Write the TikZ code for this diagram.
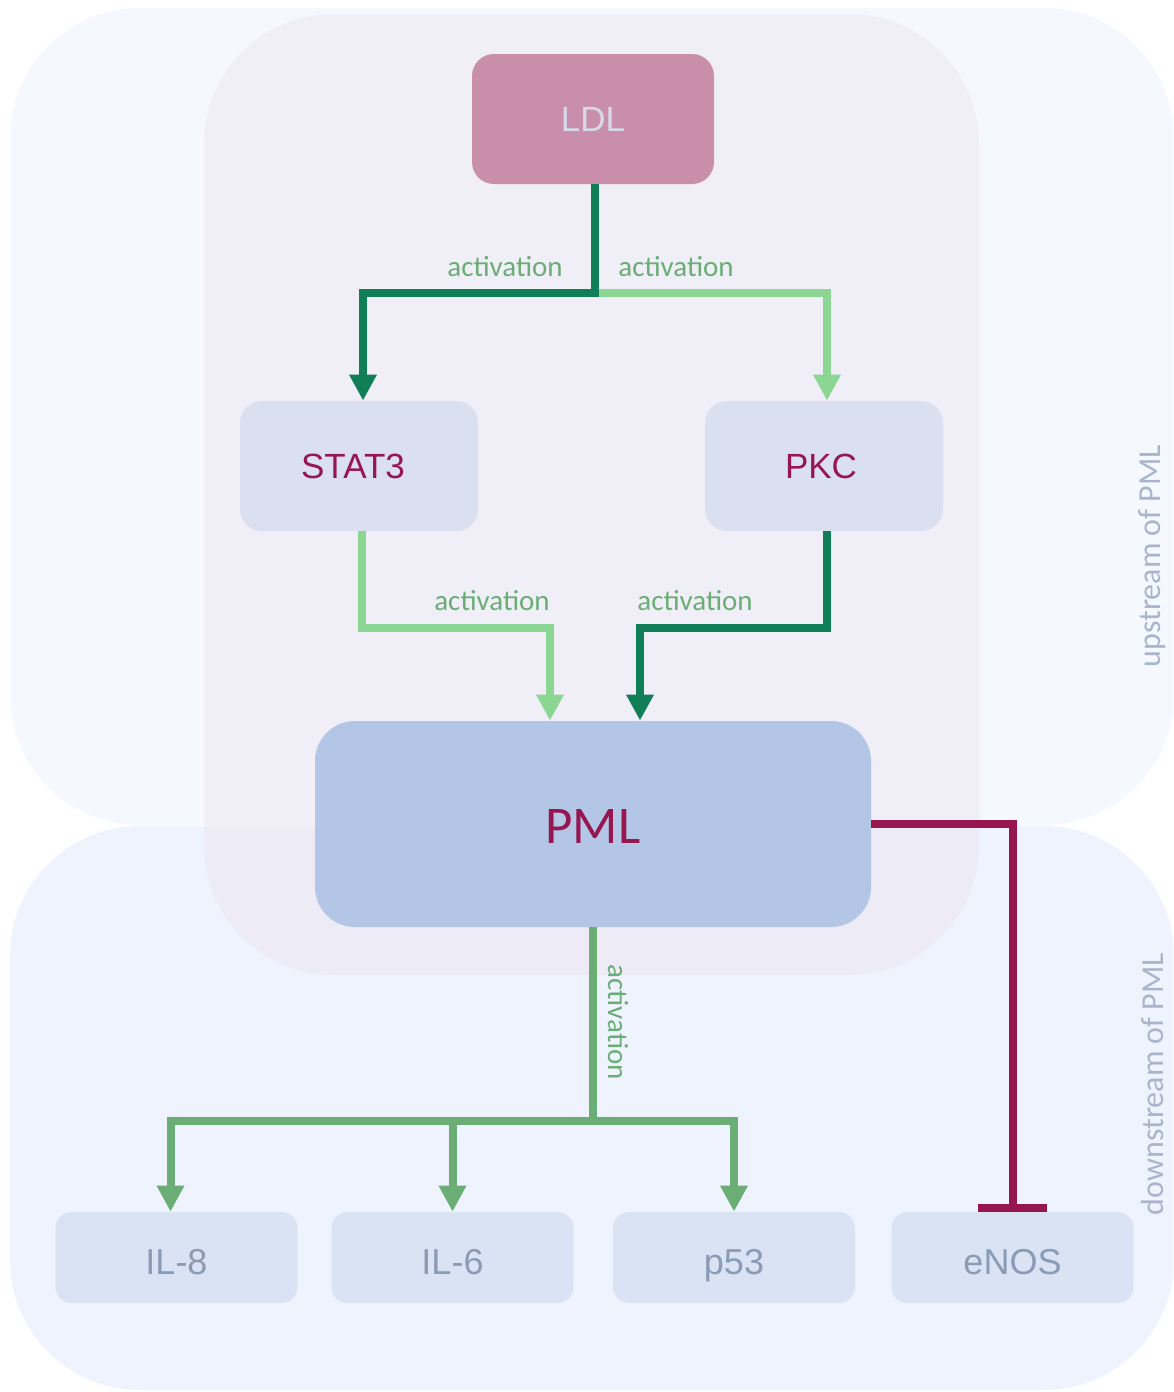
\documentclass[tikz,border=0pt]{standalone}
\usepackage{fontspec}
\setmainfont{Liberation Sans}
\newfontfamily\calib{Carlito}
\usetikzlibrary{arrows.meta}

\definecolor{upfill}{HTML}{F5F8FE}
\definecolor{downfill}{HTML}{EFF3FD}
\definecolor{corefill}{HTML}{EBE2EE}
\definecolor{ldlfill}{HTML}{C88EAC}
\definecolor{midfill}{HTML}{DAE0F0}
\definecolor{pmlfill}{HTML}{B4C6E6}
\definecolor{leaffill}{HTML}{DAE3F3}
\definecolor{plum}{HTML}{961650}
\definecolor{leaftext}{HTML}{8A9BB5}
\definecolor{ldltext}{HTML}{D6DBE9}
\definecolor{actdark}{HTML}{107F58}
\definecolor{actlight}{HTML}{8CD694}
\definecolor{actmid}{HTML}{6AAE76}
\definecolor{clustertext}{HTML}{A9B5CC}

\tikzset{
  box/.style={rectangle, inner sep=0pt, draw=none},
  topbox/.style={box, fill=ldlfill, rounded corners=11pt, minimum width=121pt,
    minimum height=65pt, text=ldltext, font=\fontsize{17.5}{20}\selectfont},
  midbox/.style={box, fill=midfill, rounded corners=11pt, minimum width=119pt,
    minimum height=65pt, text=plum, font=\fontsize{17.5}{20}\selectfont},
  hubbox/.style={box, fill=pmlfill, rounded corners=20pt, minimum width=278pt,
    minimum height=103pt, text=plum, font=\calib\fontsize{26.5}{30}\selectfont,
    text height=19pt, text depth=0pt},
  leafbox/.style={box, fill=leaffill, rounded corners=8pt, minimum width=121pt,
    minimum height=45.5pt, text=leaftext, font=\fontsize{18}{20}\selectfont,
    text height=17.4pt, text depth=0pt},
  edgelbl/.style={inner sep=0pt, text=actmid, font=\calib\fontsize{14.5}{16}\selectfont},
  clusterlbl/.style={inner sep=0pt, text=clustertext, font=\calib\fontsize{16}{18}\selectfont},
  link/.style={line width=4pt, -{Triangle[length=13pt,width=13pt]}},
  block/.style={line width=4pt, color=plum, -{Bar[width=34.5pt,line width=4pt]}},
}

\begin{document}
\begin{tikzpicture}[x=0.5pt, y=-0.5pt]
  \useasboundingbox (0,0) rectangle (1173,1392);
  \fill[white] (0,0) rectangle (1173,1392);
  \clip (0,0) rectangle (1173,1392);

  % clusters
  \fill[upfill, rounded corners=65pt] (10,8) rectangle (1174,825);
  \fill[downfill, rounded corners=65pt] (10,826) rectangle (1174,1390);
  \fill[corefill, fill opacity=0.45, rounded corners=65pt] (204,14) rectangle (979,975);

  \node[clusterlbl, rotate=90] (uplbl) at (1152,556) {upstream of PML};
  \node[clusterlbl, rotate=90] (downlbl) at (1152,1084) {downstream of PML};

  % nodes
  \node[topbox] (ldl) at (593,119) {LDL};
  \node[midbox] (stat3) at (359,466) {\hspace*{-6pt}STAT3};
  \node[midbox] (pkc) at (824,466) {\hspace*{-3pt}PKC};
  \node[hubbox] (pml) at (593,824) {PML};
  \node[leafbox] (il8) at (176.5,1257.5) {IL-8};
  \node[leafbox] (il6) at (452.5,1257.5) {IL-6};
  \node[leafbox] (p53) at (734,1257.5) {p53};
  \node[leafbox] (enos) at (1012.5,1257.5) {eNOS};

  % upstream activations
  \draw[link, actlight] ([xshift=1pt]ldl.south) |- (700,293) -| ([xshift=1.5pt]pkc.north);
  \draw[link, actdark] ([xshift=1pt]ldl.south) |- (500,293) -| ([xshift=2pt]stat3.north);
  \draw[link, actlight] ([xshift=1.5pt]stat3.south) |- (450,628) -| ([xshift=-21.5pt]pml.north);
  \draw[link, actdark] ([xshift=1.5pt]pkc.south) |- (700,628) -| ([xshift=23.5pt]pml.north);

  \node[edgelbl] (a1) at (505,267) {activation};
  \node[edgelbl] (a2) at (676,267) {activation};
  \node[edgelbl] (a3) at (492,601) {activation};
  \node[edgelbl] (a4) at (695,601) {activation};

  % downstream effects
  \draw[link, actmid] (pml.south) |- (400,1121) -| ([xshift=-3pt]il8.north);
  \draw[link, actmid] (pml.south) |- (500,1121) -| (il6.north);
  \draw[link, actmid] (pml.south) |- (650,1121) -| (p53.north);
  \node[edgelbl, rotate=-90] (a5) at (618,1022) {activation};

  \draw[block] (pml.east) -| (enos.north);
\end{tikzpicture}
\end{document}
